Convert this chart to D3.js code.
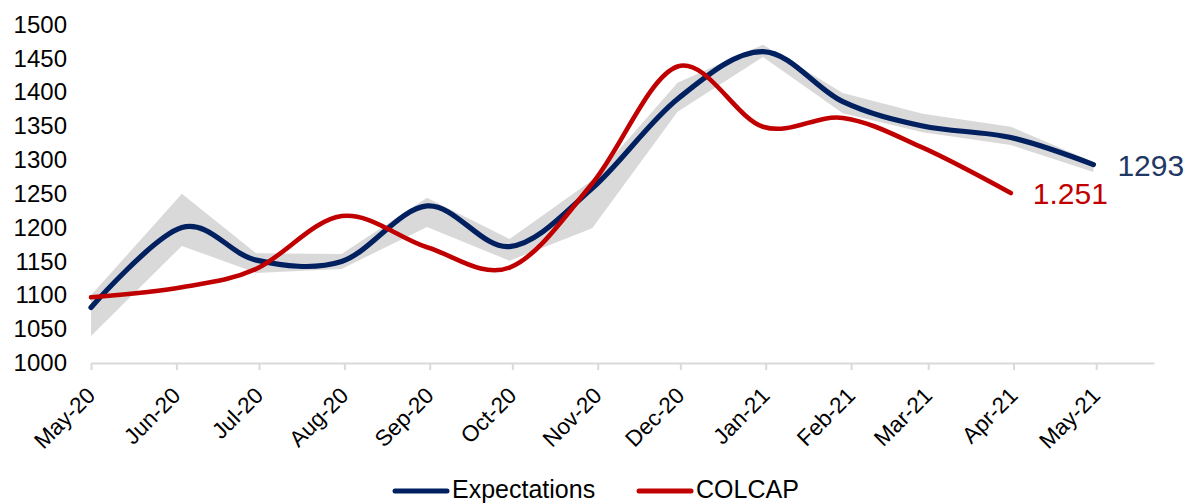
<!DOCTYPE html>
<html>
<head>
<meta charset="utf-8">
<script src="https://cdn.jsdelivr.net/npm/d3@7"></script>
<style>
  html, body { margin: 0; padding: 0; background: #ffffff; }
  svg { display: block; }
  text { font-family: "Liberation Sans", Arial, sans-serif; }
</style>
</head>
<body>
<svg id="chart" width="1190" height="504"></svg>
<script>
// Observation dates (month-end survey / close dates)
const dates = ["2020-05-01", "2020-06-03", "2020-06-30", "2020-07-31", "2020-08-31",
  "2020-09-30", "2020-10-30", "2020-11-30", "2020-12-31", "2021-01-29",
  "2021-02-27", "2021-03-31", "2021-04-30"];

// Median analyst expectation for COLCAP
const expectations = [1082, 1200, 1152, 1150, 1232, 1172, 1258, 1390, 1460, 1386, 1350, 1333, 1293];
// Range of expectations (shaded band)
const expHigh = [1100, 1250, 1162, 1161, 1244, 1183, 1270, 1414, 1470, 1399, 1368, 1349, 1297];
const expLow  = [1040, 1173, 1133, 1139, 1201, 1151, 1199, 1371, 1452, 1369, 1341, 1322, 1282];
// COLCAP index level
const colcap = [1097, 1112, 1139, 1217, 1171, 1141, 1265, 1438, 1349, 1362, 1318, 1251];

// Axis ticks
const tickDates = ["2020-05-01", "2020-06-01", "2020-07-01", "2020-08-01", "2020-09-01",
  "2020-10-01", "2020-11-01", "2020-12-01", "2021-01-01", "2021-02-01",
  "2021-03-01", "2021-04-01", "2021-05-01"];
const tickLabels = ["May-20", "Jun-20", "Jul-20", "Aug-20", "Sep-20", "Oct-20", "Nov-20",
  "Dec-20", "Jan-21", "Feb-21", "Mar-21", "Apr-21", "May-21"];
const yTicks = [1000, 1050, 1100, 1150, 1200, 1250, 1300, 1350, 1400, 1450, 1500];

const seriesNames = ["Expectations", "COLCAP"];
const colors = { exp: "#002060", colcap: "#C00000", band: "#D9D9D9", axis: "#D9D9D9" };

const parse = d3.utcParse("%Y-%m-%d");
const svg = d3.select("#chart");

const x = d3.scaleUtc()
  .domain([parse("2020-05-01"), parse("2021-05-22")])
  .range([91, 1154]);
const y = d3.scaleLinear()
  .domain([1000, 1500])
  .range([363, 24.5]);

// Shaded expectations range
const bandData = dates.map((d, i) => ({ date: parse(d), hi: expHigh[i], lo: expLow[i] }));
svg.append("path")
  .datum(bandData)
  .attr("fill", colors.band)
  .attr("d", d3.area()
    .x(d => x(d.date))
    .y0(d => y(d.lo))
    .y1(d => y(d.hi)));

// Y axis labels (no axis line)
const yAxis = svg.append("g")
  .attr("transform", "translate(67,0)")
  .call(d3.axisLeft(y).tickValues(yTicks).tickSize(0).tickPadding(0).tickFormat(d3.format("d")));
yAxis.select(".domain").remove();
yAxis.selectAll("text")
  .attr("font-size", 24)
  .attr("fill", "#000")
  .attr("font-family", "Liberation Sans, Arial, sans-serif");

// X axis
const xAxis = svg.append("g")
  .attr("transform", `translate(0,${y(1000)})`)
  .call(d3.axisBottom(x)
    .tickValues(tickDates.map(parse))
    .tickSize(7)
    .tickSizeOuter(0)
    .tickFormat((d, i) => tickLabels[i]));
xAxis.select(".domain").attr("stroke", colors.axis).attr("stroke-width", 2);
xAxis.selectAll(".tick line").attr("stroke", colors.axis).attr("stroke-width", 2);
xAxis.selectAll(".tick text")
  .attr("font-size", 22.5)
  .attr("fill", "#000")
  .attr("font-family", "Liberation Sans, Arial, sans-serif")
  .attr("text-anchor", "end")
  .attr("dy", null)
  .attr("y", null)
  .attr("transform", "translate(5,34) rotate(-45)");

// Smoothed lines
const line = d3.line()
  .x(d => x(d.date))
  .y(d => y(d.v))
  .curve(d3.curveCardinal.tension(0));

const expData = dates.map((d, i) => ({ date: parse(d), v: expectations[i] }));
const colData = colcap.map((v, i) => ({ date: parse(dates[i]), v }));

svg.append("path")
  .datum(expData)
  .attr("fill", "none")
  .attr("stroke", colors.exp)
  .attr("stroke-width", 5.2)
  .attr("stroke-linecap", "round")
  .attr("d", line);

svg.append("path")
  .datum(colData)
  .attr("fill", "none")
  .attr("stroke", colors.colcap)
  .attr("stroke-width", 4.6)
  .attr("stroke-linecap", "round")
  .attr("d", line);

// End-of-series value labels
const lastExp = expData[expData.length - 1];
svg.append("text")
  .attr("x", x(lastExp.date) + 24)
  .attr("y", y(lastExp.v) + 11)
  .attr("font-size", 30)
  .attr("fill", "#1F3864")
  .text(d3.format("d")(lastExp.v));

const lastCol = colData[colData.length - 1];
svg.append("text")
  .attr("x", x(lastCol.date) + 22)
  .attr("y", y(lastCol.v) + 11)
  .attr("font-size", 30)
  .attr("fill", colors.colcap)
  .text(d3.format(",")(lastCol.v).replace(",", "."));

// Legend
const legend = svg.append("g");
const legendItems = [
  { name: seriesNames[0], color: colors.exp, x: 393 },
  { name: seriesNames[1], color: colors.colcap, x: 637 }
];
legendItems.forEach(item => {
  legend.append("line")
    .attr("x1", item.x + 2).attr("x2", item.x + 54)
    .attr("y1", 491).attr("y2", 491)
    .attr("stroke", item.color)
    .attr("stroke-width", 5)
    .attr("stroke-linecap", "round");
  legend.append("text")
    .attr("x", item.x + 59)
    .attr("y", 498)
    .attr("font-size", 25)
    .attr("fill", "#000")
    .text(item.name);
});
</script>
</body>
</html>
